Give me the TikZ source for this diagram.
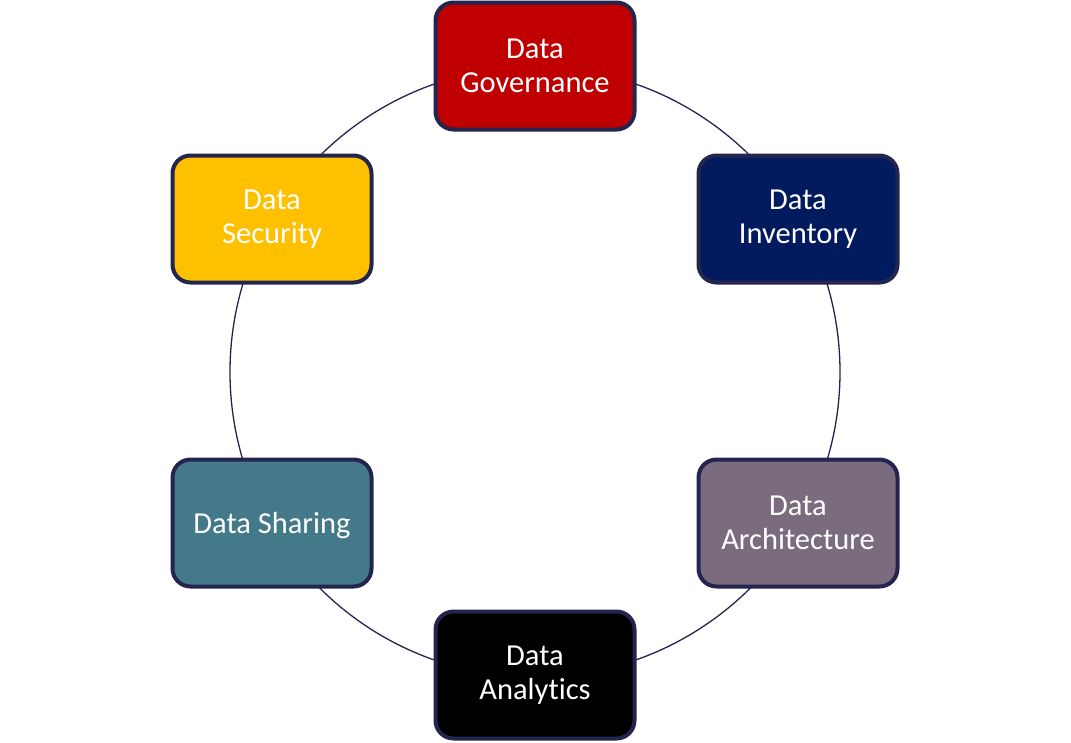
\documentclass[tikz,border=0pt]{standalone}
\usepackage{fontspec}
\setmainfont[Ligatures={NoCommon}]{Carlito}
\definecolor{govred}{HTML}{C00000}
\definecolor{invnavy}{HTML}{011B5E}
\definecolor{archmauve}{HTML}{7A6B7E}
\definecolor{sharteal}{HTML}{44798A}
\definecolor{secgold}{HTML}{FFC000}
\definecolor{rimblue}{HTML}{23254F}
\begin{document}
\begin{tikzpicture}[x=1pt, y=1pt,
    every node/.style={font=\fontsize{30.5}{34.5}\selectfont},
    area/.style={rectangle, rounded corners=18pt, draw=rimblue, line width=4pt,
        minimum width=199pt, minimum height=127pt, text=white, align=center,
        execute at begin node={\rule{0pt}{26pt}}}]
			\useasboundingbox (0,0) rectangle (1071,-742);

			% Ring
			\coordinate (hub) at (535,-372);
			\draw[rimblue, line width=1.3pt] (hub) circle[radius=305];

			% Nodes
			\node[area, fill=govred] (gov) at (535,-66) {Data\\Governance};
			\node[area, fill=invnavy] (inv) at (798,-219) {Data\\Inventory};
			\node[area, fill=archmauve] (arch) at (798,-523) {Data\\Architecture};
			\node[area, fill=black] (ana) at (535,-675) {Data\\Analytics};
			\node[area, fill=sharteal] (shar) at (272,-523) {Data Sharing};
			\node[area, fill=secgold] (sec) at (272,-219) {Data\\Security};
		\end{tikzpicture}
\end{document}
